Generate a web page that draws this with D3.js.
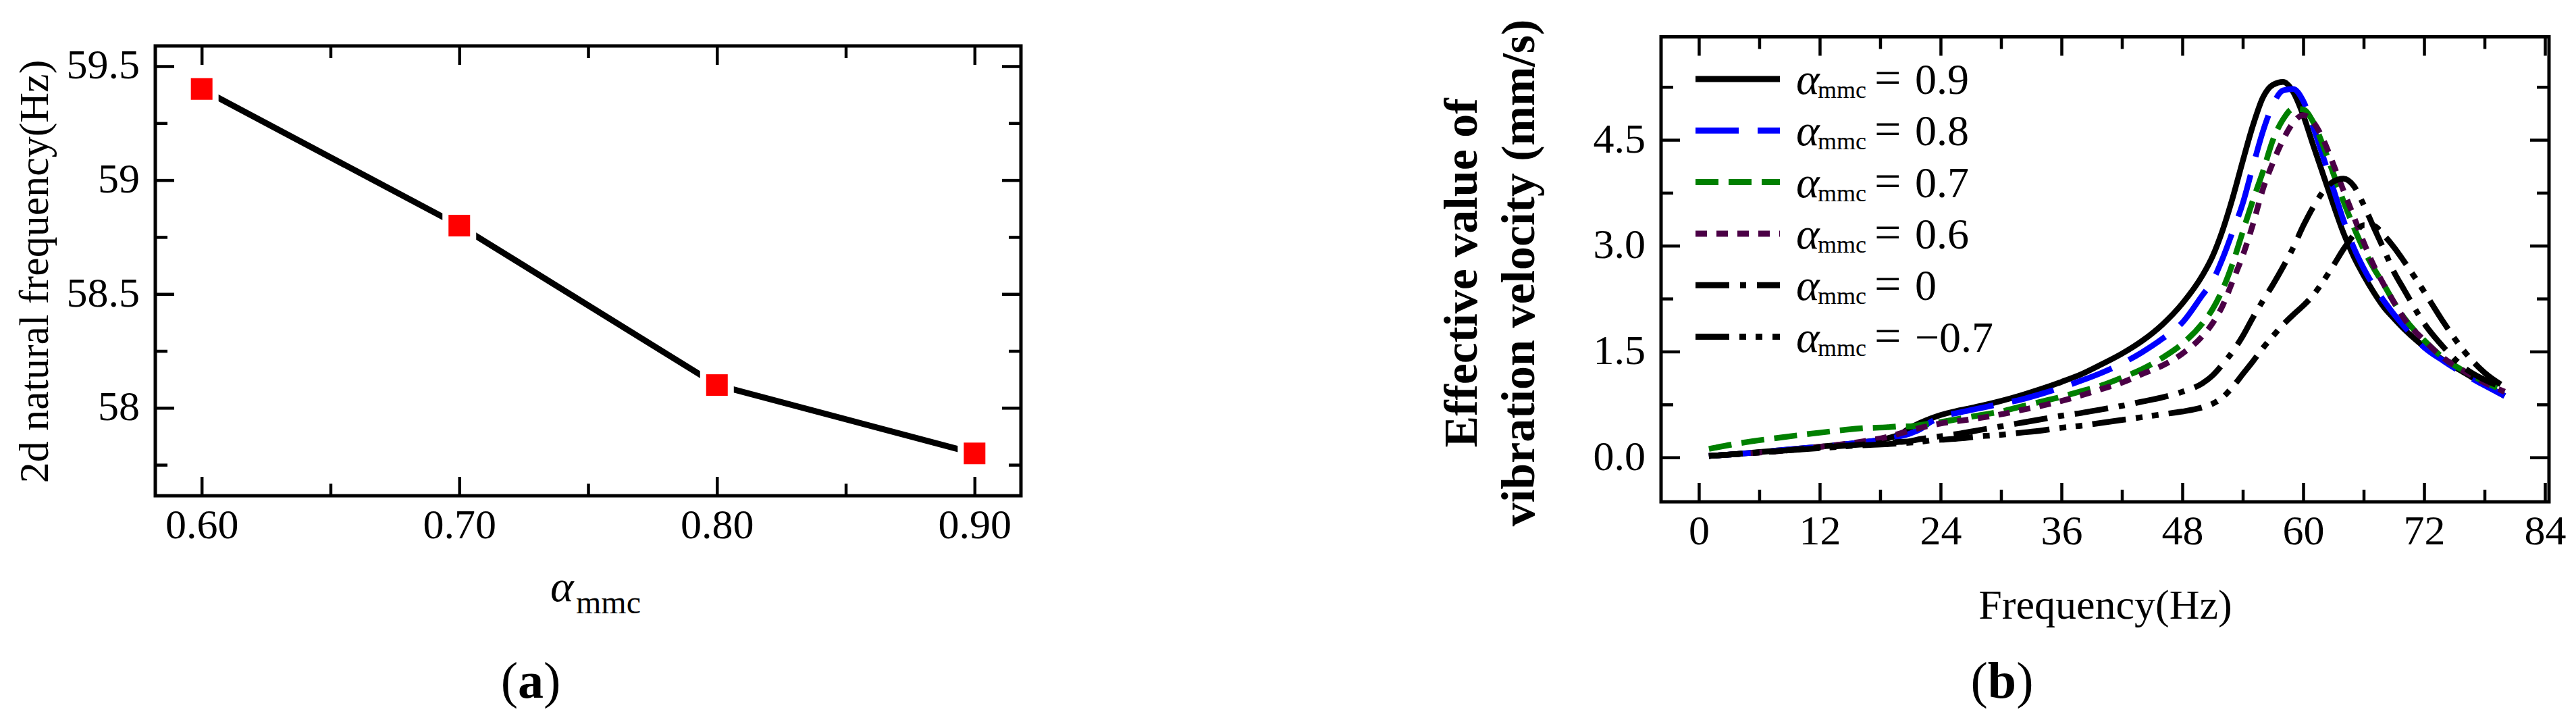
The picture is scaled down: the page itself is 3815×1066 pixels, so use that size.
<!DOCTYPE html>
<html lang="en">
  <head>
    <meta charset="UTF-8" />
    <script src="https://d3js.org/d3.v7.min.js"></script>
    <title>Natural frequency and vibration velocity vs alpha_mmc</title>
    <style>
      body { margin: 0; background: #fff; }
      svg { display: block; }
      svg text { font-family: "Liberation Serif", "Times New Roman", serif; }
    </style>
  </head>
  <body>
    <div id="chart-container"></div>

    <script>
      // ---- panel (a) data ----
      const alphaA = [0.6, 0.7, 0.8, 0.9];
      const natFreqA = [59.4, 58.8, 58.1, 57.8];
      const xTicksA = [0.6, 0.7, 0.8, 0.9];
      const xTickLabelsA = ["0.60", "0.70", "0.80", "0.90"];
      const xMinorA = [0.65, 0.75, 0.85];
      const yTicksA = [58, 58.5, 59, 59.5];
      const yTickLabelsA = ["58", "58.5", "59", "59.5"];
      const yMinorA = [57.75, 58.25, 58.75, 59.25];

      // ---- panel (b) data ----
      const freqB = [1, 4, 8, 12, 16, 19, 20, 21, 22, 23, 24, 26, 28, 30, 32, 34, 36, 38, 40, 42, 44, 46, 48, 50,
        51, 52, 53, 54, 55, 56, 57, 58, 59, 60, 61, 62, 63, 64, 65, 66, 67, 68, 69, 70, 72, 74, 76, 78, 80];
      const vel09 = [0.02, 0.05, 0.10, 0.15, 0.21, 0.28, 0.33, 0.42, 0.49, 0.55, 0.60, 0.67, 0.73, 0.80, 0.88, 0.97, 1.07, 1.18, 1.32, 1.47, 1.65, 1.88, 2.18, 2.58,
        2.85, 3.22, 3.68, 4.2, 4.7, 5.1, 5.28, 5.32, 5.18, 4.85, 4.42, 4.0, 3.58, 3.18, 2.85, 2.58, 2.34, 2.13, 1.97, 1.82, 1.57, 1.37, 1.2, 1.03, 0.87];
      const vel08 = [0.02, 0.05, 0.10, 0.15, 0.21, 0.27, 0.30, 0.34, 0.40, 0.50, 0.57, 0.64, 0.70, 0.76, 0.82, 0.90, 0.99, 1.09, 1.20, 1.33, 1.49, 1.68, 1.91, 2.3,
        2.5, 2.82, 3.2, 3.6, 4.12, 4.62, 5.0, 5.2, 5.22, 5.05, 4.68, 4.25, 3.8, 3.36, 2.98, 2.68, 2.43, 2.22, 2.03, 1.86, 1.56, 1.36, 1.18, 1.02, 0.87];
      const vel07 = [0.12, 0.20, 0.28, 0.35, 0.41, 0.43, 0.44, 0.44, 0.46, 0.48, 0.50, 0.55, 0.60, 0.65, 0.72, 0.79, 0.86, 0.94, 1.02, 1.13, 1.25, 1.41, 1.61, 1.9,
        2.1, 2.38, 2.75, 3.2, 3.64, 4.05, 4.5, 4.79, 4.94, 4.93, 4.75, 4.41, 4.02, 3.63, 3.27, 2.95, 2.68, 2.45, 2.2, 1.98, 1.66, 1.4, 1.22, 1.07, 0.94];
      const vel06 = [0.02, 0.05, 0.09, 0.15, 0.22, 0.30, 0.34, 0.38, 0.42, 0.45, 0.48, 0.52, 0.56, 0.61, 0.67, 0.73, 0.80, 0.88, 0.97, 1.06, 1.18, 1.3, 1.47, 1.72,
        1.9, 2.15, 2.5, 2.86, 3.3, 3.8, 4.18, 4.5, 4.74, 4.85, 4.75, 4.5, 4.15, 3.78, 3.42, 3.05, 2.72, 2.45, 2.2, 1.97, 1.66, 1.4, 1.22, 1.06, 0.93];
      const vel00 = [0.02, 0.05, 0.09, 0.14, 0.18, 0.21, 0.22, 0.23, 0.26, 0.28, 0.30, 0.34, 0.39, 0.44, 0.49, 0.54, 0.59, 0.63, 0.68, 0.73, 0.79, 0.85, 0.93, 1.05,
        1.16, 1.32, 1.5, 1.72, 1.98, 2.22, 2.45, 2.7, 2.97, 3.28, 3.55, 3.77, 3.91, 3.95, 3.85, 3.58, 3.26, 2.95, 2.63, 2.38, 1.9, 1.55, 1.27, 1.1, 0.98];
      const velN07 = [0.02, 0.05, 0.09, 0.13, 0.17, 0.19, 0.20, 0.21, 0.22, 0.24, 0.25, 0.27, 0.30, 0.32, 0.35, 0.38, 0.42, 0.45, 0.49, 0.53, 0.57, 0.61, 0.65, 0.71,
        0.76, 0.85, 1.0, 1.18, 1.36, 1.55, 1.72, 1.88, 2.02, 2.15, 2.3, 2.5, 2.72, 2.95, 3.15, 3.29, 3.28, 3.15, 2.98, 2.78, 2.35, 1.9, 1.5, 1.2, 1.0];
      const seriesLabels = ["0.9", "0.8", "0.7", "0.6", "0", "\u22120.7"];
      const xTicksB = [0, 12, 24, 36, 48, 60, 72, 84];
      const xMinorB = [6, 18, 30, 42, 54, 66, 78];
      const yTicksB = [0, 1.5, 3, 4.5];
      const yTickLabelsB = ["0.0", "1.5", "3.0", "4.5"];
      const yMinorB = [0.75, 2.25, 3.75, 5.25];

      const font = '"Liberation Serif", "Times New Roman", serif';

      const svg = d3
        .select("#chart-container")
        .append("svg")
        .attr("width", 3815)
        .attr("height", 1066)
        .attr("font-family", font);

      svg.append("rect").attr("width", 3815).attr("height", 1066).attr("fill", "#fff");

      // ticks on all four sides, pointing in, labels only bottom/left
      function drawFrame(x, y, xMajor, xLabels, xMinor, yMajor, yLabels, yMinor) {
        const [xl, xr] = x.range();
        const [yb, yt] = y.range();
        const g = svg.append("g");

        const style = (sel) => {
          sel.select(".domain").remove();
          sel.attr("font-family", font).attr("font-size", 62);
          sel.selectAll("line").attr("stroke", "#000").attr("stroke-width", 4.5);
          sel.selectAll("text").attr("fill", "#000");
        };

        g.append("g")
          .attr("transform", `translate(0,${yb})`)
          .call(d3.axisBottom(x).tickValues(xMajor).tickSize(-28)
            .tickFormat((d) => xLabels[xMajor.indexOf(d)]))
          .call(style)
          .call((a) => a.selectAll("text").attr("y", 63).attr("dy", null));
        g.append("g")
          .attr("transform", `translate(0,${yb})`)
          .call(d3.axisBottom(x).tickValues(xMinor).tickSize(-18).tickFormat(() => ""))
          .call(style);
        g.append("g")
          .attr("transform", `translate(0,${yt})`)
          .call(d3.axisTop(x).tickValues(xMajor).tickSize(-28).tickFormat(() => ""))
          .call(style);
        g.append("g")
          .attr("transform", `translate(0,${yt})`)
          .call(d3.axisTop(x).tickValues(xMinor).tickSize(-18).tickFormat(() => ""))
          .call(style);

        g.append("g")
          .attr("transform", `translate(${xl},0)`)
          .call(d3.axisLeft(y).tickValues(yMajor).tickSize(-28).tickPadding(23)
            .tickFormat((d) => yLabels[yMajor.indexOf(d)]))
          .call(style)
          .call((a) => a.selectAll("text").attr("dy", "0.29em"));
        g.append("g")
          .attr("transform", `translate(${xl},0)`)
          .call(d3.axisLeft(y).tickValues(yMinor).tickSize(-18).tickFormat(() => ""))
          .call(style);
        g.append("g")
          .attr("transform", `translate(${xr},0)`)
          .call(d3.axisRight(y).tickValues(yMajor).tickSize(-28).tickFormat(() => ""))
          .call(style);
        g.append("g")
          .attr("transform", `translate(${xr},0)`)
          .call(d3.axisRight(y).tickValues(yMinor).tickSize(-18).tickFormat(() => ""))
          .call(style);

        g.append("rect")
          .attr("x", xl)
          .attr("y", yt)
          .attr("width", xr - xl)
          .attr("height", yb - yt)
          .attr("fill", "none")
          .attr("stroke", "#000")
          .attr("stroke-width", 5);
      }

      // ================= panel (a) =================
      const xA = d3.scaleLinear().domain([0.582, 0.918]).range([230, 1512]);
      const yA = d3.scaleLinear().domain([57.614, 59.589]).range([734, 68]);

      drawFrame(xA, yA, xTicksA, xTickLabelsA, xMinorA, yTicksA, yTickLabelsA, yMinorA);

      const pointsA = alphaA.map((a, i) => ({ a: a, f: natFreqA[i] }));

      svg.append("path")
        .datum(pointsA)
        .attr("fill", "none")
        .attr("stroke", "#000")
        .attr("stroke-width", 9)
        .attr("d", d3.line().x((d) => xA(d.a)).y((d) => yA(d.f)));

      svg.append("g")
        .selectAll("rect")
        .data(pointsA)
        .join("rect")
        .attr("x", (d) => xA(d.a) - 16)
        .attr("y", (d) => yA(d.f) - 16)
        .attr("width", 32)
        .attr("height", 32)
        .attr("fill", "#ff0000")
        .attr("stroke", "#fff")
        .attr("stroke-width", 18)
        .attr("paint-order", "stroke");

      // axis titles (a)
      svg.append("text")
        .attr("transform", "translate(71,402) rotate(-90)")
        .attr("text-anchor", "middle")
        .attr("font-size", 62)
        .text("2d natural frequency(Hz)");

      const xLabA = svg.append("text").attr("y", 890).attr("font-size", 66);
      xLabA.append("tspan").attr("x", 815).attr("font-style", "italic").text("\u03b1");
      xLabA.append("tspan").attr("x", 853).attr("dy", 18).attr("font-size", 48).text("mmc");

      const capA = svg.append("text").attr("x", 786).attr("y", 1033)
        .attr("text-anchor", "middle").attr("font-size", 76);
      capA.append("tspan").text("(");
      capA.append("tspan").attr("font-weight", "bold").text("a");
      capA.append("tspan").text(")");

      // ================= panel (b) =================
      const xB = d3.scaleLinear().domain([-3.75, 84.4]).range([2460, 3775]);
      const yB = d3.scaleLinear().domain([-0.63, 5.96]).range([743, 54.5]);

      drawFrame(xB, yB, xTicksB, xTicksB.map(String), xMinorB, yTicksB, yTickLabelsB, yMinorB);

      const seriesValues = [vel09, vel08, vel07, vel06, vel00, velN07];
      const seriesColors = ["#000000", "#0000ff", "#008000", "#4b0046", "#000000", "#000000"];
      const seriesDash = [null, "64 28", "34 15", "17 14", "50 16 9 16", "50 15 10 14 10 15"];

      const lineB = d3.line()
        .x((d) => xB(d.f))
        .y((d) => yB(d.v))
        .curve(d3.curveMonotoneX);

      seriesValues.forEach((vals, i) => {
        svg.append("path")
          .datum(freqB.map((f, j) => ({ f: f, v: vals[j] })))
          .attr("fill", "none")
          .attr("stroke", seriesColors[i])
          .attr("stroke-width", 8.5)
          .attr("stroke-dasharray", seriesDash[i])
          .attr("d", lineB);
      });

      // legend
      const legend = svg.append("g");
      seriesLabels.forEach((name, i) => {
        const ly = 117 + i * 76.3;
        legend.append("line")
          .attr("x1", 2511).attr("x2", 2636)
          .attr("y1", ly).attr("y2", ly)
          .attr("stroke", seriesColors[i])
          .attr("stroke-width", 9)
          .attr("stroke-dasharray", seriesDash[i]);
        const t = legend.append("text").attr("y", ly + 22).attr("font-size", 64);
        t.append("tspan").attr("x", 2660).attr("font-style", "italic").attr("font-size", 66).text("\u03b1");
        t.append("tspan").attr("x", 2692).attr("dy", 6).attr("font-size", 36).text("mmc");
        t.append("tspan").attr("x", 2776).attr("dy", -6).attr("font-size", 70).text("=");
        t.append("tspan").attr("x", 2836).text(name);
      });

      // axis titles (b)
      svg.append("text")
        .attr("transform", "translate(2187,404) rotate(-90)")
        .attr("text-anchor", "middle")
        .attr("font-size", 70)
        .attr("font-weight", "bold")
        .text("Effective value of");
      svg.append("text")
        .attr("transform", "translate(2272,404) rotate(-90)")
        .attr("text-anchor", "middle")
        .attr("font-size", 70)
        .attr("font-weight", "bold")
        .text("vibration velocity (mm/s)");

      svg.append("text")
        .attr("x", 3118)
        .attr("y", 916)
        .attr("text-anchor", "middle")
        .attr("font-size", 62)
        .text("Frequency(Hz)");

      const capB = svg.append("text").attr("x", 2965).attr("y", 1033)
        .attr("text-anchor", "middle").attr("font-size", 76);
      capB.append("tspan").text("(");
      capB.append("tspan").attr("font-weight", "bold").text("b");
      capB.append("tspan").text(")");
    </script>
  </body>
</html>
